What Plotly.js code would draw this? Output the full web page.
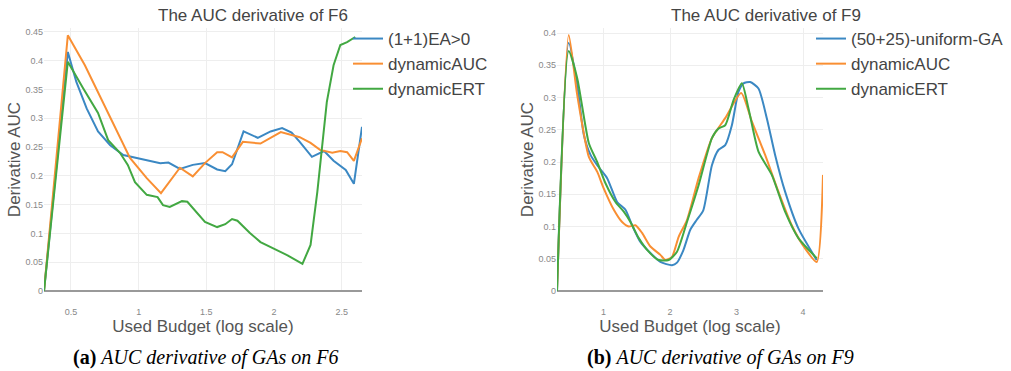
<!DOCTYPE html>
<html>
<head>
<meta charset="utf-8">
<script src="https://cdn.plot.ly/plotly-3.0.1.min.js"></script>
<style>html,body{margin:0;padding:0;background:#fff;}#chart{width:1011px;height:371px;}</style>
</head>
<body>
<div id="chart"></div>
<script>
// ---- Data: F6 (left panel) ----
var seriesNamesF6 = ["(1+1)EA>0", "dynamicAUC", "dynamicERT"];
var f6EaX = [0.301, 0.477, 0.54, 0.616, 0.70, 0.79, 0.887, 0.985, 1.084, 1.16, 1.22, 1.305, 1.40, 1.49, 1.58, 1.64, 1.69, 1.775, 1.88, 1.975, 2.06, 2.13, 2.19, 2.28, 2.37, 2.44, 2.53, 2.59, 2.65];
var f6EaY = [0, 0.415, 0.363, 0.317, 0.277, 0.253, 0.236, 0.231, 0.227, 0.222, 0.223, 0.212, 0.219, 0.222, 0.211, 0.208, 0.220, 0.277, 0.266, 0.277, 0.283, 0.275, 0.259, 0.233, 0.243, 0.226, 0.210, 0.186, 0.285];
var f6AucX = [0.301, 0.477, 0.603, 0.936, 1.06, 1.165, 1.305, 1.40, 1.49, 1.58, 1.62, 1.69, 1.77, 1.90, 2.05, 2.19, 2.27, 2.34, 2.43, 2.49, 2.54, 2.59, 2.65];
var f6AucY = [0, 0.444, 0.392, 0.231, 0.196, 0.170, 0.214, 0.199, 0.222, 0.241, 0.241, 0.232, 0.259, 0.256, 0.276, 0.267, 0.257, 0.245, 0.240, 0.243, 0.241, 0.226, 0.265];
var f6ErtX = [0.301, 0.477, 0.59, 0.70, 0.775, 0.862, 0.92, 0.973, 1.06, 1.14, 1.18, 1.23, 1.32, 1.36, 1.49, 1.58, 1.64, 1.69, 1.73, 1.82, 1.90, 1.99, 2.10, 2.21, 2.27, 2.32, 2.355, 2.39, 2.44, 2.49, 2.54, 2.60];
var f6ErtY = [0, 0.398, 0.352, 0.309, 0.262, 0.240, 0.219, 0.189, 0.167, 0.163, 0.149, 0.146, 0.156, 0.155, 0.120, 0.111, 0.116, 0.125, 0.122, 0.101, 0.085, 0.075, 0.062, 0.047, 0.080, 0.172, 0.253, 0.328, 0.392, 0.427, 0.432, 0.441];

// ---- Data: F9 (right panel) ----
var seriesNamesF9 = ["(50+25)-uniform-GA", "dynamicAUC", "dynamicERT"];
var f9GaX = [0.301, 0.477, 0.605, 0.705, 0.805, 0.905, 1.055, 1.205, 1.33, 1.43, 1.555, 1.705, 1.855, 2.03, 2.105, 2.20, 2.305, 2.40, 2.50, 2.63, 2.73, 2.83, 2.93, 3.03, 3.105, 3.205, 3.33, 3.455, 3.58, 3.73, 3.93, 4.205];
var f9GaY = [0, 0.385, 0.32, 0.242, 0.211, 0.195, 0.175, 0.138, 0.126, 0.102, 0.076, 0.059, 0.045, 0.040, 0.044, 0.063, 0.095, 0.110, 0.125, 0.195, 0.219, 0.226, 0.257, 0.309, 0.322, 0.324, 0.314, 0.268, 0.211, 0.154, 0.097, 0.048];
var f9AucX = [0.301, 0.477, 0.605, 0.78, 0.905, 1.0, 1.155, 1.28, 1.38, 1.48, 1.58, 1.705, 1.855, 1.93, 2.03, 2.13, 2.255, 2.43, 2.63, 2.83, 3.07, 3.23, 3.43, 3.63, 3.83, 4.03, 4.205, 4.30];
var f9AucY = [0, 0.397, 0.304, 0.208, 0.185, 0.160, 0.126, 0.107, 0.100, 0.102, 0.090, 0.069, 0.056, 0.048, 0.053, 0.084, 0.110, 0.175, 0.237, 0.268, 0.307, 0.263, 0.211, 0.154, 0.102, 0.066, 0.045, 0.180];
var f9ErtX = [0.301, 0.477, 0.605, 0.78, 0.905, 1.03, 1.18, 1.305, 1.405, 1.53, 1.68, 1.83, 1.98, 2.105, 2.255, 2.43, 2.63, 2.73, 2.83, 2.955, 3.08, 3.18, 3.33, 3.53, 3.73, 3.93, 4.205];
var f9ErtY = [0, 0.372, 0.330, 0.229, 0.200, 0.167, 0.138, 0.123, 0.107, 0.082, 0.061, 0.048, 0.048, 0.061, 0.107, 0.164, 0.237, 0.252, 0.257, 0.296, 0.322, 0.283, 0.216, 0.180, 0.123, 0.082, 0.051];

// ---- Text ----
var titleF6 = "The AUC derivative of F6";
var titleF9 = "The AUC derivative of F9";
var xTitle = "Used Budget (log scale)";
var yTitle = "Derivative AUC";
var captionA = "<b>(a)</b> <i>AUC derivative of GAs on F6</i>";
var captionB = "<b>(b)</b> <i>AUC derivative of GAs on F9</i>";

var colors = ["#3b88c3", "#f98f33", "#42a842"];
var SANS = "Liberation Sans, Arial, sans-serif";

function tr(x, y, name, ci, xa, ya, leg, shape) {
  return {x: x, y: y, name: name, type: "scatter", mode: "lines",
    xaxis: xa, yaxis: ya, legend: leg,
    line: {color: colors[ci], width: 2, shape: shape, smoothing: 0.6}};
}

var data = [
  tr(f6EaX, f6EaY, seriesNamesF6[0], 0, "x", "y", "legend", "linear"),
  tr(f6AucX, f6AucY, seriesNamesF6[1], 1, "x", "y", "legend", "linear"),
  tr(f6ErtX, f6ErtY, seriesNamesF6[2], 2, "x", "y", "legend", "linear"),
  tr(f9GaX, f9GaY, seriesNamesF9[0], 0, "x2", "y2", "legend2", "spline"),
  tr(f9AucX, f9AucY, seriesNamesF9[1], 1, "x2", "y2", "legend2", "spline"),
  tr(f9ErtX, f9ErtY, seriesNamesF9[2], 2, "x2", "y2", "legend2", "spline")
];

var H = 371, W = 1011;
function px(v) { return v / W; }
function py(v) { return (H - v) / H; }

var tickFont = {family: SANS, size: 9, color: "#888"};
var titleFont = {family: SANS, size: 17, color: "#555"};

function xAxis(domain, range, dtick, anchor) {
  return {domain: domain, range: range, dtick: dtick, tick0: 0, anchor: anchor,
    showgrid: true, gridcolor: "#eeeeee", zeroline: false, showline: false,
    ticks: "outside", ticklen: 12, tickcolor: "rgba(0,0,0,0)",
    tickfont: tickFont, title: {text: xTitle, font: titleFont, standoff: 4}};
}
function yAxis(domain, range, anchor) {
  return {domain: domain, range: range, dtick: 0.05, tick0: 0, anchor: anchor,
    showgrid: true, gridcolor: "#eeeeee", zeroline: true, zerolinecolor: "#999", zerolinewidth: 1.5,
    showline: false, ticks: "", tickfont: tickFont,
    title: {text: yTitle, font: titleFont, standoff: 0}};
}

var yDom = [py(291), py(28)];

var layout = {
  width: W, height: H,
  margin: {l: 0, r: 0, t: 0, b: 0},
  paper_bgcolor: "#fff", plot_bgcolor: "#fff",
  showlegend: true,
  xaxis: xAxis([px(44), px(362)], [0.301, 2.65], 0.5, "y"),
  yaxis: yAxis(yDom, [0, (291 - 28) / 576], "x"),
  xaxis2: xAxis([px(557), px(823)], [0.301, 4.30], 1, "y2"),
  yaxis2: yAxis(yDom, [0, (291 - 28) / 645], "x2"),
  legend: {x: px(348), y: py(21), xanchor: "left", yanchor: "top",
    bgcolor: "rgba(0,0,0,0)", font: {family: SANS, size: 17, color: "#444"}},
  legend2: {x: px(811), y: py(21), xanchor: "left", yanchor: "top",
    bgcolor: "rgba(0,0,0,0)", font: {family: SANS, size: 17, color: "#444"}},
  annotations: [
    {text: titleF6, xref: "paper", yref: "paper", x: px(253), y: py(15), showarrow: false,
      xanchor: "center", yanchor: "middle", font: {family: SANS, size: 17, color: "#444"}},
    {text: titleF9, xref: "paper", yref: "paper", x: px(766), y: py(15), showarrow: false,
      xanchor: "center", yanchor: "middle", font: {family: SANS, size: 17, color: "#444"}},
    {text: captionA, xref: "paper", yref: "paper", x: px(206), y: py(357), showarrow: false,
      xanchor: "center", yanchor: "middle", font: {family: "Liberation Serif, Times New Roman, serif", size: 20, color: "#000"}},
    {text: captionB, xref: "paper", yref: "paper", x: px(720), y: py(357), showarrow: false,
      xanchor: "center", yanchor: "middle", font: {family: "Liberation Serif, Times New Roman, serif", size: 20, color: "#000"}}
  ]
};

Plotly.newPlot("chart", data, layout, {displayModeBar: false, staticPlot: true});
</script>
</body>
</html>
